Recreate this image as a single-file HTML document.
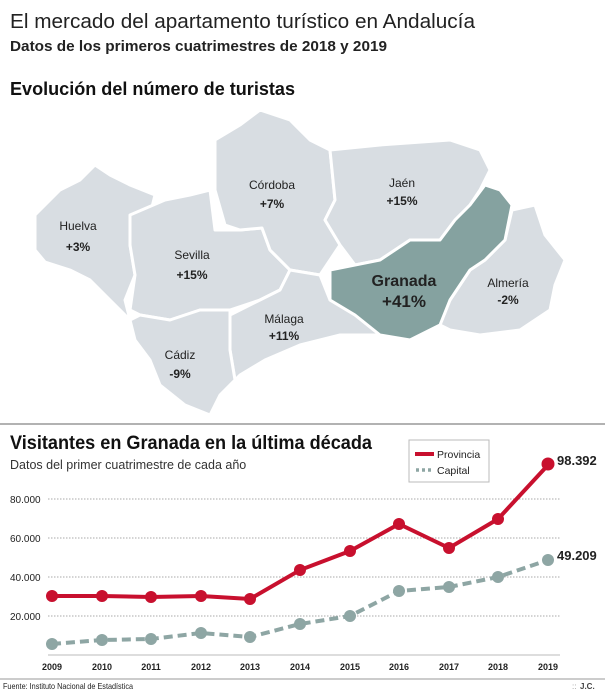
<!DOCTYPE html>
<html><head><meta charset="utf-8"><style>
body{margin:0;background:#fff;width:605px;height:694px;overflow:hidden;font-family:"Liberation Sans",sans-serif}
</style></head><body>
<svg width="605" height="694" viewBox="0 0 605 694" xmlns="http://www.w3.org/2000/svg" font-family="Liberation Sans, sans-serif">
<text x="10" y="28" font-size="20" fill="#222" textLength="465" lengthAdjust="spacingAndGlyphs">El mercado del apartamento turístico en Andalucía</text>
<text x="10" y="51" font-size="15" font-weight="bold" fill="#222" textLength="377" lengthAdjust="spacingAndGlyphs">Datos de los primeros cuatrimestres de 2018 y 2019</text>
<text x="10" y="95" font-size="18" font-weight="bold" fill="#111" textLength="285" lengthAdjust="spacingAndGlyphs">Evolución del número de turistas</text>
<g fill="#d8dde2" stroke="#fff" stroke-width="3" stroke-linejoin="round">
<polygon points="35,215 60,190 80,180 95,165 110,175 130,185 155,195 150,215 135,225 130,245 135,275 125,300 130,320 110,300 90,280 70,270 45,262 35,250"/>
<polygon points="130,215 165,200 190,195 210,190 215,230 240,230 262,228 270,250 290,270 280,290 260,300 230,310 200,310 170,320 140,315 130,310 135,275 130,245"/>
<polygon points="215,140 240,125 260,110 290,120 310,140 330,150 335,200 325,220 340,245 320,275 290,270 270,250 262,228 240,230 225,225 215,190"/>
<polygon points="330,150 380,145 450,140 480,150 490,170 480,190 470,205 455,220 440,240 410,240 380,260 355,265 340,245 325,220 335,200"/>
<polygon points="512,210 535,205 545,235 565,260 555,285 550,310 520,330 480,335 450,330 440,325 450,300 470,270 485,260 505,240"/>
<polygon points="230,315 260,300 280,290 290,270 320,275 330,300 355,315 380,335 340,335 300,345 265,360 240,375 220,395 235,380 230,350"/>
<polygon points="130,320 140,315 170,320 200,310 230,310 230,350 235,380 220,395 210,415 185,405 160,385 150,360 135,340"/>
<polygon fill="#85a2a0" points="470,205 485,185 500,190 512,205 505,240 485,260 470,270 450,300 440,325 410,340 380,335 355,315 330,300 330,270 355,265 380,260 410,240 440,240 455,220"/>
</g>
<g font-size="12" fill="#222" text-anchor="middle">
<text x="78" y="230">Huelva</text><text x="78" y="251" font-weight="bold">+3%</text>
<text x="192" y="259">Sevilla</text><text x="192" y="279" font-weight="bold">+15%</text>
<text x="272" y="189">Córdoba</text><text x="272" y="208" font-weight="bold">+7%</text>
<text x="402" y="187">Jaén</text><text x="402" y="205" font-weight="bold">+15%</text>
<text x="404" y="286" font-size="16" font-weight="bold">Granada</text><text x="404" y="307" font-size="17" font-weight="bold">+41%</text>
<text x="508" y="287">Almería</text><text x="508" y="304" font-weight="bold">-2%</text>
<text x="284" y="323">Málaga</text><text x="284" y="340" font-weight="bold">+11%</text>
<text x="180" y="359">Cádiz</text><text x="180" y="378" font-weight="bold">-9%</text>
</g>
<line x1="0" y1="424" x2="605" y2="424" stroke="#999" stroke-width="1.5"/>
<text x="10" y="449" font-size="19" font-weight="bold" fill="#111" textLength="362" lengthAdjust="spacingAndGlyphs">Visitantes en Granada en la última década</text>
<text x="10" y="469" font-size="12.5" fill="#333">Datos del primer cuatrimestre de cada año</text>
<g stroke="#aaa" stroke-width="1" stroke-dasharray="1.5,1.5">
<line x1="48" y1="499" x2="560" y2="499"/><line x1="48" y1="538" x2="560" y2="538"/><line x1="48" y1="577" x2="560" y2="577"/><line x1="48" y1="616" x2="560" y2="616"/>
</g>
<line x1="48" y1="655" x2="560" y2="655" stroke="#bbb"/>
<g font-size="10" fill="#222">
<text x="10" y="503">80.000</text><text x="10" y="542">60.000</text><text x="10" y="581">40.000</text><text x="10" y="620">20.000</text>
</g>
<g font-size="9" font-weight="bold" fill="#222" text-anchor="middle">
<text x="52" y="670">2009</text><text x="102" y="670">2010</text><text x="151" y="670">2011</text><text x="201" y="670">2012</text><text x="250" y="670">2013</text><text x="300" y="670">2014</text><text x="350" y="670">2015</text><text x="399" y="670">2016</text><text x="449" y="670">2017</text><text x="498" y="670">2018</text><text x="548" y="670">2019</text>
</g>
<polyline fill="none" stroke="#8ea6a4" stroke-width="4" stroke-dasharray="9,5" points="52,644 102,640 151,639 201,633 250,637 300,624 350,616 399,591 449,587 498,577 548,560"/>
<g fill="#8ea6a4"><circle cx="52" cy="644" r="6"/><circle cx="102" cy="640" r="6"/><circle cx="151" cy="639" r="6"/><circle cx="201" cy="633" r="6"/><circle cx="250" cy="637" r="6"/><circle cx="300" cy="624" r="6"/><circle cx="350" cy="616" r="6"/><circle cx="399" cy="591" r="6"/><circle cx="449" cy="587" r="6"/><circle cx="498" cy="577" r="6"/><circle cx="548" cy="560" r="6"/></g>
<polyline fill="none" stroke="#c8102e" stroke-width="4" points="52,596 102,596 151,597 201,596 250,599 300,570 350,551 399,524 449,548 498,519 548,465"/>
<g fill="#c8102e"><circle cx="52" cy="596" r="6"/><circle cx="102" cy="596" r="6"/><circle cx="151" cy="597" r="6"/><circle cx="201" cy="596" r="6"/><circle cx="250" cy="599" r="6"/><circle cx="300" cy="570" r="6"/><circle cx="350" cy="551" r="6"/><circle cx="399" cy="524" r="6"/><circle cx="449" cy="548" r="6"/><circle cx="498" cy="519" r="6"/><circle cx="548" cy="464" r="6.5"/></g>
<text x="557" y="465" font-size="13" font-weight="bold" fill="#222">98.392</text>
<text x="557" y="560" font-size="13" font-weight="bold" fill="#222">49.209</text>
<rect x="409" y="440" width="80" height="42" fill="#fff" stroke="#bbb"/>
<line x1="415" y1="454" x2="434" y2="454" stroke="#c8102e" stroke-width="4"/>
<text x="437" y="458" font-size="10.5" fill="#222">Provincia</text>
<line x1="416" y1="470" x2="433" y2="470" stroke="#8ea6a4" stroke-width="3.5" stroke-dasharray="3,3"/>
<text x="437" y="474" font-size="10.5" fill="#222">Capital</text>
<line x1="0" y1="679" x2="605" y2="679" stroke="#999"/>
<text x="3" y="689" font-size="8.5" fill="#222" textLength="130" lengthAdjust="spacingAndGlyphs">Fuente: Instituto Nacional de Estadística</text>
<text x="580" y="689" font-size="8" font-weight="bold" fill="#444">J.C.</text>
<text x="572" y="689" font-size="8" fill="#999">::</text>
</svg>
</body></html>
